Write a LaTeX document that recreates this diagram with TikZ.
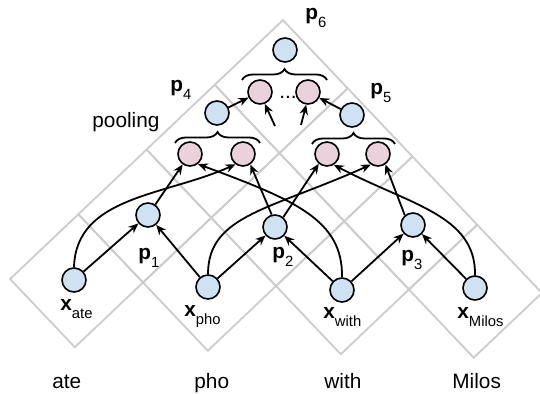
\documentclass[tikz,border=0pt]{standalone}
\usepackage{fontspec}
\setmainfont{Liberation Sans}
\usetikzlibrary{decorations.pathreplacing,arrows.meta}
\definecolor{vecblue}{HTML}{CFE2F3}
\definecolor{poolpink}{HTML}{EAD1DC}
\definecolor{gridgray}{HTML}{CCCCCC}
\newcommand{\vsub}[2]{\textbf{#1}\raisebox{-3.6pt}{\fontsize{7.4pt}{8pt}\selectfont #2}}
\begin{document}
\begin{tikzpicture}[x=0.5pt,y=-0.5pt,
  font=\fontsize{10.4pt}{12pt}\selectfont,
  vec/.style={circle,draw,line width=0.8pt,fill=vecblue,minimum size=12pt,inner sep=0pt},
  pool/.style={vec,fill=poolpink},
  lbl/.style={anchor=base west,inner sep=0pt},
  conn/.style={line width=0.9pt,-{Stealth[length=5pt,width=4.2pt,inset=1.6pt]}},
  cell/.style={draw=gridgray,line width=0.9pt},
  grp/.style={decorate,decoration={brace,amplitude=5.5pt},line width=0.9pt}]
\useasboundingbox (0,0) rectangle (540,394);
% Rejilla
\begin{scope}[rotate around={-1.5:(276,286)}]
\foreach \i in {0,...,3}
  \foreach \j in {\i,...,3}
    \draw[cell] ({10+66.5*(\i+\j)},{286-66.5*(\j-\i)})
      -- ++(66.5,-66.5) -- ++(66.5,66.5) -- ++(-66.5,66.5) -- cycle;
\end{scope}
% Nodos
\node[vec] (xate) at (74,280) {};
\node[vec] (xpho) at (208,287) {};
\node[vec] (xwith) at (342,290) {};
\node[vec] (xmilos) at (475,288) {};
\node[vec] (p1) at (148,215) {};
\node[vec] (p2) at (275,227) {};
\node[vec] (p3) at (413,225) {};
\node[pool] (l1) at (190,154) {};
\node[pool] (l2) at (243,154) {};
\node[pool] (r1) at (327,154) {};
\node[pool] (r2) at (378,154) {};
\node[vec] (p4) at (217,113) {};
\node[vec] (p5) at (352,115) {};
\node[pool] (t1) at (260,92) {};
\node[pool] (t2) at (308,92) {};
\node[vec] (p6) at (285,50) {};
\coordinate (s1) at (275,126);
\coordinate (s2) at (301,125);
% Flechas
\draw[conn] (xate) -- (p1);
\draw[conn] (xpho) -- (p1);
\draw[conn] (xpho) -- (p2);
\draw[conn] (xwith) -- (p2);
\draw[conn] (xwith) -- (p3);
\draw[conn] (xmilos) -- (p3);
\draw[conn] (p1.55) -- (l1.-125);
\draw[conn] (p2.105) -- (l2.-55);
\draw[conn] (p2.50) -- (r1.-130);
\draw[conn] (p3.130) -- (r2.-55);
\draw[conn] (xate.north) .. controls (76,196) and (165,196) .. (l2.-126);
\draw[conn] (xwith.north) .. controls (343,220) and (295,200) .. (l1.-52);
\draw[conn] (xpho.north) .. controls (208,215) and (270,210) .. (r2.-124);
\draw[conn] (xmilos.north) .. controls (476,215) and (410,205) .. (r1.-58);
\draw[conn] (p4) -- (t1);
\draw[conn] (p5) -- (t2);
\draw[conn] (s1) -- (t1.-68);
\draw[conn] (s2) -- (t2.-98);
% Llaves
\draw[grp] (175,143) -- (260,143);
\draw[grp] (312,144) -- (395,144);
\draw[grp] (242,80) -- (327,80);
\node[anchor=base] (dots) at (288,99) {...};
% Etiquetas
\node[lbl] (lxate) at (60,311) {\vsub{x}{ate}};
\node[lbl] (lxpho) at (184,317) {\vsub{x}{pho}};
\node[lbl] (lxwith) at (323,319) {\vsub{x}{with}};
\node[lbl] (lxmilos) at (457,319) {\vsub{x}{Milos}};
\node[lbl] (lp1) at (138,260) {\vsub{p}{1}};
\node[lbl] (lp2) at (272,259) {\vsub{p}{2}};
\node[lbl] (lp3) at (401,262) {\vsub{p}{3}};
\node[lbl] (lp4) at (170,92) {\vsub{p}{4}};
\node[lbl] (lp5) at (370,95) {\vsub{p}{5}};
\node[lbl] (lp6) at (305,20) {\vsub{p}{6}};
\node[lbl] (lpool) at (92,128) {pooling};
\node[lbl] (wate) at (52,389) {ate};
\node[lbl] (wpho) at (194,389) {pho};
\node[lbl] (wwith) at (324,389) {with};
\node[lbl] (wmilos) at (452,389) {Milos};
\end{tikzpicture}
\end{document}
